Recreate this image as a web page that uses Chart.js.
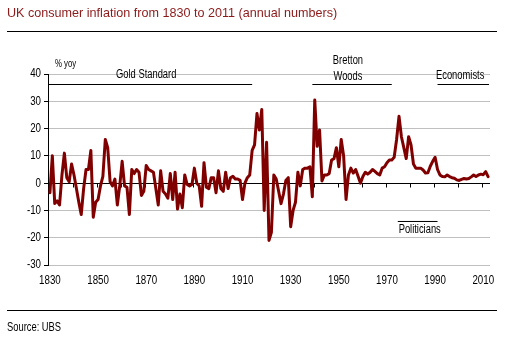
<!DOCTYPE html>
<html>
<head>
<meta charset="utf-8">
<script src="https://cdn.jsdelivr.net/npm/chart.js@4.4.1/dist/chart.umd.min.js"></script>
<style>
  html, body { margin: 0; padding: 0; background: #fff; }
  #wrap { position: relative; width: 506px; height: 341px; overflow: hidden; }
  #title { position: absolute; left: 7px; top: 6px; font: 12.6px 'Liberation Sans', Arial, sans-serif; color: #8b1a1a; white-space: nowrap; }
  .rule { position: absolute; left: 7px; width: 490px; height: 0; border-top: 1px solid #000; }
  #source { position: absolute; left: 7px; top: 320px; font: 12px 'Liberation Sans', Arial, sans-serif; white-space: nowrap;
            transform: scaleX(0.78); transform-origin: left top; }
  canvas { position: absolute; left: 0; top: 0; }
</style>
</head>
<body>
<div id="wrap">
  <canvas id="cpi-chart" width="506" height="341"></canvas>
  <div id="title">UK consumer inflation from 1830 to 2011 (annual numbers)</div>
  <div class="rule" style="top:31px"></div>
  <div class="rule" style="top:310px"></div>
  <div id="source">Source: UBS</div>
</div>
<script>
// 영국 소비자물가 상승률 (% yoy), 그림에서 눈으로 읽은 값
const YEARS = [
  1830, 1831, 1832, 1833, 1834, 1835, 1836, 1837, 1838, 1839,
  1840, 1841, 1842, 1843, 1844, 1845, 1846, 1847, 1848, 1849,
  1850, 1851, 1852, 1853, 1854, 1855, 1856, 1857, 1858, 1859,
  1860, 1861, 1862, 1863, 1864, 1865, 1866, 1867, 1868, 1869,
  1870, 1871, 1872, 1873, 1874, 1875, 1876, 1877, 1878, 1879,
  1880, 1881, 1882, 1883, 1884, 1885, 1886, 1887, 1888, 1889,
  1890, 1891, 1892, 1893, 1894, 1895, 1896, 1897, 1898, 1899,
  1900, 1901, 1902, 1903, 1904, 1905, 1906, 1907, 1908, 1909,
  1910, 1911, 1912, 1913, 1914, 1915, 1916, 1917, 1918, 1919,
  1920, 1921, 1922, 1923, 1924, 1925, 1926, 1927, 1928, 1929,
  1930, 1931, 1932, 1933, 1934, 1935, 1936, 1937, 1938, 1939,
  1940, 1941, 1942, 1943, 1944, 1945, 1946, 1947, 1948, 1949,
  1950, 1951, 1952, 1953, 1954, 1955, 1956, 1957, 1958, 1959,
  1960, 1961, 1962, 1963, 1964, 1965, 1966, 1967, 1968, 1969,
  1970, 1971, 1972, 1973, 1974, 1975, 1976, 1977, 1978, 1979,
  1980, 1981, 1982, 1983, 1984, 1985, 1986, 1987, 1988, 1989,
  1990, 1991, 1992, 1993, 1994, 1995, 1996, 1997, 1998, 1999,
  2000, 2001, 2002, 2003, 2004, 2005, 2006, 2007, 2008, 2009,
  2010, 2011, 2012,
];

const CPI_YOY = [
  -3.5, 10, -7.5, -6.5, -8, 3, 11, 2, 0.5, 7,            // 1830s
  3, -2, -7, -11.5, -2, 5, 5, 12, -12.5, -7,              // 1840s
  -6, -1, 2.5, 16, 13, 0.5, -1, 1.5, -8, -1,              // 1850s
  8, -1, -1.5, -11.5, 5, 3.5, 5, 4, -4.5, -3,             // 1860s
  6.5, 5, 4.5, 4, -2, -8, 4.5, -3, -4, -5.5,              // 1870s
  3.5, -6, 4, -9.5, -4, -9, 3, -0.5, -1, -0.5,            // 1880s
  5.5, 0, -1, -8.5, 7.5, -1.5, -2, 2, 2, -3.5,            // 1890s
  4.5, -2, -3, 4, -2, 2, 2.5, 1.5, 1.5, 1,                // 1900s
  -6, 0, 2, 3, 12, 14, 25.5, 19.5, 27, -10,               // 1910s
  15, -21, -18, 3, 1.5, -3, -7.5, -4, 1, 2,               // 1920s
  -16, -10, -7, 4, -1, 5, 5.5, 5.5, 6, -5,                // 1930s
  30.5, 13.5, 19.5, 0.8, 3, 3, 3.5, 8.5, 9, 13,           // 1940s
  6, 16, 10, -6, 3, 5.5, 3.7, 5, 2.5, 0,                  // 1950s
  2.4, 4, 3.3, 4, 5, 4.3, 3.5, 3, 5.5, 6,                 // 1960s
  7.5, 8.5, 8.5, 9.5, 16, 24.5, 17, 13, 9, 17,            // 1970s
  14, 7, 5.5, 5.5, 5.5, 4.8, 3.7, 3.8, 6.2, 8,            // 1980s
  9.5, 5, 3, 2.4, 2.3, 3, 2.4, 2, 1.8, 1.2,               // 1990s
  1, 1.4, 1.7, 1.5, 1.7, 2.3, 3, 2.4, 3, 3.3,             // 2000s
  3.1, 4.2, 2.4,                                          // 2010s
];

const X_TICKS = [1830, 1850, 1870, 1890, 1910, 1930, 1950, 1970, 1990, 2010];
const Y_TICKS = [-30, -20, -10, 0, 10, 20, 30, 40];
const ZERO_TICKS = [1840, 1850, 1860, 1870, 1880, 1890, 1900, 1910, 1920, 1930,
                    1940, 1950, 1960, 1970, 1980, 1990, 2000, 2010];

// 통화 체제 구간 막대: [시작, 끝, 높이]
const GOLD_STANDARD = [1829.2, 1914, 36.15];
const BRETTON_WOODS = [1939, 1972, 36.15];
const ECONOMISTS    = [1991, 2012.4, 36.15];
const POLITICIANS   = [1974.5, 1991, -14.05];

const SANS = "'Liberation Sans', Arial, sans-serif";
const LINE_RED = '#800000';

const regimeSet = (r) => ({
  data: [{ x: r[0], y: r[2] }, { x: r[1], y: r[2] }],
  borderColor: '#000',
  borderWidth: 1,
  pointRadius: 0,
  tension: 0,
});

// Arial Narrow 대용: 가로로 눌러 그린 글자
function narrowText(ctx, txt, px, py, size, align) {
  ctx.save();
  ctx.font = `${size}px ${SANS}`;
  ctx.fillStyle = '#000';
  ctx.textBaseline = 'middle';
  ctx.textAlign = align || 'center';
  ctx.translate(px, py);
  ctx.scale(0.78, 1);
  ctx.fillText(txt, 0, 0);
  ctx.restore();
}

// 0선 위 눈금, 축 글자, 체제 이름
const notesPlugin = {
  id: 'notes',
  beforeDatasetsDraw(chart) {
    const { ctx, scales: { x, y } } = chart;
    const y0 = Math.round(y.getPixelForValue(0)) + 0.5;
    ctx.save();
    ctx.strokeStyle = '#000';
    ctx.lineWidth = 1;
    ctx.beginPath();
    ZERO_TICKS.forEach(yr => {
      const px = Math.round(x.getPixelForValue(yr - 0.5)) + 0.5;
      ctx.moveTo(px, y0);
      ctx.lineTo(px, y0 + 4);
    });
    ctx.stroke();
    ctx.restore();
  },
  afterDraw(chart) {
    const { ctx, chartArea, scales: { x, y } } = chart;
    X_TICKS.forEach(v => narrowText(ctx, String(v), x.getPixelForValue(v), chartArea.bottom + 16, 12.5));
    Y_TICKS.forEach(v => narrowText(ctx, String(v), chartArea.left - 7, y.getPixelForValue(v), 12.5, 'right'));

    const put = (txt, xv, yv, size, align) =>
      narrowText(ctx, txt, x.getPixelForValue(xv), y.getPixelForValue(yv), size, align);
    put('% yoy', 1832.1, 43.7, 10, 'left');
    put('Gold Standard', 1870, 39.7, 12);
    put('Bretton', 1953.8, 44.8, 12);
    put('Woods', 1953.8, 38.9, 12);
    put('Economists', 2000.4, 39.3, 12);
    put('Politicians', 1983.6, -17.1, 12);
  },
};

new Chart(document.getElementById('cpi-chart').getContext('2d'), {
  type: 'line',
  data: {
    datasets: [
      {
        data: YEARS.map((yr, i) => ({ x: yr, y: CPI_YOY[i] })),
        borderColor: LINE_RED,
        borderWidth: 3,
        borderJoinStyle: 'round',
        borderCapStyle: 'round',
        pointRadius: 0,
        tension: 0,
      },
      regimeSet(GOLD_STANDARD),
      regimeSet(BRETTON_WOODS),
      regimeSet(ECONOMISTS),
      regimeSet(POLITICIANS),
    ],
  },
  options: {
    responsive: false,
    animation: false,
    devicePixelRatio: 1,
    layout: { padding: { left: 0, right: 16, top: 74, bottom: 46 } },
    plugins: { legend: { display: false }, tooltip: { enabled: false } },
    scales: {
      x: {
        type: 'linear',
        min: 1829.2,
        max: 2012.8,
        afterBuildTicks: axis => { axis.ticks = X_TICKS.map(v => ({ value: v })); },
        afterFit: s => { s.height = 30; },
        ticks: { display: false },
        grid: { display: false, drawTicks: false },
        border: { display: false },
      },
      y: {
        min: -30,
        max: 40,
        afterBuildTicks: axis => { axis.ticks = Y_TICKS.map(v => ({ value: v })); },
        afterFit: s => { s.width = 48; },
        ticks: { display: false },
        grid: {
          color: c => (c.tick && c.tick.value === 0 ? '#000' : '#c0c0c0'),
          lineWidth: 1,
          tickLength: 4,
          tickColor: '#000',
        },
        border: { display: true, color: '#000', width: 1 },
      },
    },
  },
  plugins: [notesPlugin],
});
</script>
</body>
</html>
